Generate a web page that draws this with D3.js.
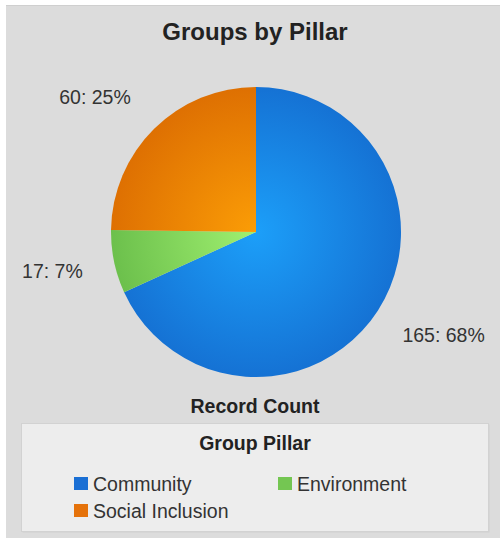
<!DOCTYPE html>
<html>
<head>
<meta charset="utf-8">
<script src="https://cdn.jsdelivr.net/npm/d3@7"></script>
<style>
  body { margin: 0; background: #fff; }
  svg { display: block; font-family: "Liberation Sans", Arial, sans-serif; }
</style>
</head>
<body>
<div id="chart"></div>
<script>
// Data
var categories = ["Community", "Environment", "Social Inclusion"];
var counts = [165, 17, 60];
var sliceInner = ["#1c9ff9", "#a0f070", "#fb9d06"];
var sliceOuter = ["#1572d4", "#6cc04c", "#de7002"];
var legendColors = ["#1a6fd4", "#74c652", "#e5720a"];

var width = 500, height = 538;
var cx = 256, cy = 232, radius = 145;

var svg = d3.select("#chart").append("svg")
    .attr("width", width)
    .attr("height", height);

// panel background
svg.append("rect")
    .attr("x", 6).attr("y", 5)
    .attr("width", width - 6).attr("height", height - 5)
    .attr("fill", "#dcdcdc");
svg.append("line")
    .attr("x1", 6).attr("x2", width)
    .attr("y1", 5.5).attr("y2", 5.5)
    .attr("stroke", "#cfcfcf");

// title
svg.append("text")
    .attr("x", 255).attr("y", 40)
    .attr("text-anchor", "middle")
    .style("font-size", "24px")
    .style("font-weight", "bold")
    .attr("fill", "#222")
    .text("Groups by Pillar");

// gradients per slice
var defs = svg.append("defs");
categories.forEach(function(c, i) {
    var g = defs.append("radialGradient")
        .attr("id", "grad" + i)
        .attr("gradientUnits", "userSpaceOnUse")
        .attr("cx", 0).attr("cy", 0).attr("r", radius);
    g.append("stop").attr("offset", "0%").attr("stop-color", sliceInner[i]);
    g.append("stop").attr("offset", "100%").attr("stop-color", sliceOuter[i]);
});

var total = d3.sum(counts);
var pie = d3.pie().sort(null).value(function(d) { return d; });
var arcs = pie(counts);
var arc = d3.arc().innerRadius(0).outerRadius(radius);

var g = svg.append("g")
    .attr("transform", "translate(" + cx + "," + cy + ")");

g.selectAll("path.slice")
    .data(arcs)
    .enter().append("path")
    .attr("class", "slice")
    .attr("d", arc)
    .attr("fill", function(d, i) { return "url(#grad" + i + ")"; });

// outside labels
var rx = 174, ry = 190;
g.selectAll("text.lbl")
    .data(arcs)
    .enter().append("text")
    .attr("class", "lbl")
    .each(function(d) {
        var a = (d.startAngle + d.endAngle) / 2;
        var sx = Math.sin(a), sy = -Math.cos(a);
        var right = sx > 0;
        d3.select(this)
            .attr("x", rx * sx + (right ? 0 : -3))
            .attr("y", ry * sy)
            .attr("dy", "0.35em")
            .attr("text-anchor", right ? "start" : "end");
    })
    .style("font-size", "19.5px")
    .attr("fill", "#333")
    .text(function(d) {
        return d.value + ": " + Math.round(d.value / total * 100) + "%";
    });

// axis-like caption
svg.append("text")
    .attr("x", 255).attr("y", 413)
    .attr("text-anchor", "middle")
    .style("font-size", "19.5px")
    .style("font-weight", "bold")
    .attr("fill", "#222")
    .text("Record Count");

// legend
var legend = svg.append("g");
legend.append("rect")
    .attr("x", 22.5).attr("y", 424.5)
    .attr("width", 467).attr("height", 108)
    .attr("fill", "#cfcfcf");
legend.append("rect")
    .attr("x", 21.5).attr("y", 423.5)
    .attr("width", 467).attr("height", 108)
    .attr("fill", "#ededed")
    .attr("stroke", "#d2d2d2");
legend.append("text")
    .attr("x", 255).attr("y", 450)
    .attr("text-anchor", "middle")
    .style("font-size", "19.5px")
    .style("font-weight", "bold")
    .attr("fill", "#222")
    .text("Group Pillar");

var colX = d3.scalePoint().domain([0, 1]).range([74, 278]);
var rowY = d3.scalePoint().domain([0, 1]).range([490, 517]);

var item = legend.selectAll("g.item")
    .data(categories)
    .enter().append("g")
    .attr("class", "item")
    .attr("transform", function(d, i) {
        return "translate(" + colX(i % 2) + "," + rowY(Math.floor(i / 2)) + ")";
    });
item.append("rect")
    .attr("x", 0).attr("y", -13)
    .attr("width", 14).attr("height", 13)
    .attr("fill", function(d, i) { return legendColors[i]; });
item.append("text")
    .attr("x", 19).attr("y", 1)
    .style("font-size", "19.5px")
    .attr("fill", "#333")
    .text(function(d) { return d; });
</script>
</body>
</html>
